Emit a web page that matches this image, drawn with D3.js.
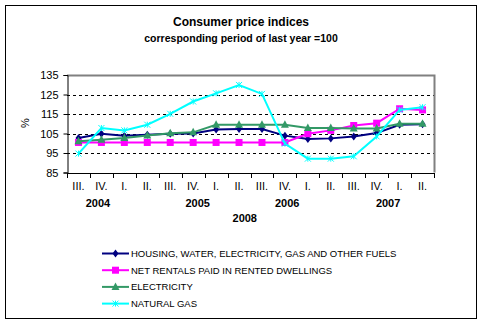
<!DOCTYPE html>
<html>
<head>
<meta charset="utf-8">
<script src="https://cdn.jsdelivr.net/npm/d3@7"></script>
<style>
  body { margin: 0; background: #fff; }
  svg text { font-family: "Liberation Sans", Arial, sans-serif; fill: #000; }
</style>
</head>
<body>
<svg id="chart" width="484" height="324"></svg>
<script>
/*
Data
*/
var quarters = ["III.", "IV.", "I.", "II.", "III.", "IV.", "I.", "II.", "III.", "IV.", "I.", "II.", "III.", "IV.", "I.", "II."];
var years = ["2004", "2005", "2006", "2007", "2008"];
var yTicks = [85, 95, 105, 115, 125, 135];

var housing = [102.7, 104.9, 103.9, 104.4, 104.9, 105.0, 107.0, 107.3, 107.3, 103.9, 102.2, 102.5, 103.5, 105.2, 109.5, 109.8];
var rentals = [100.4, 100.4, 100.4, 100.4, 100.4, 100.4, 100.4, 100.4, 100.4, 100.4, 104.9, 106.6, 109.1, 110.3, 117.7, 117.1];
var electricity = [101.0, 101.8, 102.7, 104.0, 105.1, 105.6, 109.5, 109.5, 109.5, 109.5, 107.8, 107.8, 107.6, 107.6, 110.0, 110.0];
var naturalGas = [94.7, 107.8, 106.6, 109.5, 115.1, 121.4, 125.6, 129.9, 125.3, 99.8, 92.1, 92.1, 93.3, 103.5, 117.1, 118.5];

var seriesNames = ["HOUSING, WATER, ELECTRICITY, GAS AND OTHER FUELS", "NET RENTALS PAID IN RENTED DWELLINGS", "ELECTRICITY", "NATURAL GAS"];

/*
Drawing
*/
function drawChart(){
  let svg = d3.select("#chart");
  let left = 67, right = 434, top = 75, bottom = 172.5;

  let series = [
    {name: seriesNames[0], values: housing, color: "#000080", marker: "diamond"},
    {name: seriesNames[1], values: rentals, color: "#FF00FF", marker: "square"},
    {name: seriesNames[2], values: electricity, color: "#339966", marker: "triangle"},
    {name: seriesNames[3], values: naturalGas, color: "#00FFFF", marker: "star"}
  ];

  // outer frame
  svg.append("rect")
     .attr("x", 5.5).attr("y", 5.5)
     .attr("width", 471).attr("height", 313)
     .attr("fill", "#fff").attr("stroke", "#000").attr("stroke-width", 1);

  svg.append("text")
     .attr("x", 241).attr("y", 26)
     .attr("text-anchor", "middle")
     .style("font-size", "12px").style("font-weight", "bold")
     .text("Consumer price indices");
  svg.append("text")
     .attr("x", 241).attr("y", 42)
     .attr("text-anchor", "middle")
     .style("font-size", "10.5px").style("font-weight", "bold")
     .text("corresponding period of last year =100");

  let x = d3.scaleBand().domain(d3.range(quarters.length)).range([left, right]);
  let y = d3.scaleLinear().domain([85, 135]).range([bottom, top]);

  // grid lines
  svg.append("g")
     .selectAll("line")
     .data(yTicks.filter(function(d){ return d > 85 && d < 135; }))
     .enter()
     .append("line")
     .attr("x1", left).attr("x2", right)
     .attr("y1", function(d){ return Math.round(y(d)) + 0.5; })
     .attr("y2", function(d){ return Math.round(y(d)) + 0.5; })
     .attr("stroke", "#000").attr("stroke-dasharray", "3,3");

  // plot border top/right
  svg.append("path")
     .attr("d", "M" + left + "," + (Math.round(top) + 0.5) + "H" + (right + 0.5) + "V" + bottom)
     .attr("fill", "none").attr("stroke", "#808080").attr("stroke-width", 2);

  // y axis
  let yAxis = d3.axisLeft(y).tickValues(yTicks).tickSize(4).tickPadding(5);
  let gy = svg.append("g")
              .attr("transform", "translate(" + (left + 0.5) + ",0)")
              .call(yAxis);
  gy.selectAll("text").style("font-size", "11px").attr("fill", "#000");
  gy.selectAll("line").attr("stroke", "#000");
  gy.select(".domain").attr("stroke", "#000");

  svg.append("text")
     .attr("transform", "translate(29,123) rotate(-90)")
     .attr("text-anchor", "middle")
     .style("font-size", "11px")
     .text("%");

  // x axis with ticks at category boundaries
  let gx = svg.append("g");
  gx.append("line")
    .attr("x1", left).attr("x2", right + 1)
    .attr("y1", Math.round(bottom) + 0.5).attr("y2", Math.round(bottom) + 0.5)
    .attr("stroke", "#000");
  gx.selectAll("line.tick")
    .data(d3.range(quarters.length + 1))
    .enter()
    .append("line")
    .attr("class", "tick")
    .attr("x1", function(i){ return Math.round(left + i * x.step()) + 0.5; })
    .attr("x2", function(i){ return Math.round(left + i * x.step()) + 0.5; })
    .attr("y1", Math.round(bottom)).attr("y2", Math.round(bottom) + 5)
    .attr("stroke", "#000");
  gx.selectAll("text")
    .data(quarters)
    .enter()
    .append("text")
    .attr("x", function(d, i){ return x(i) + x.bandwidth() / 2; })
    .attr("y", 190)
    .attr("text-anchor", "middle")
    .style("font-size", "11px")
    .text(function(d){ return d; });

  // year labels (placed like the original multi-level axis)
  let yearPos = [1.35, 5.7, 9.6, 14.0, 7.75];
  let yearRow = [207, 207, 207, 207, 222];
  svg.append("g")
     .selectAll("text")
     .data(years)
     .enter()
     .append("text")
     .attr("x", function(d, i){ return left + yearPos[i] * x.step(); })
     .attr("y", function(d, i){ return yearRow[i]; })
     .attr("text-anchor", "middle")
     .style("font-size", "11px").style("font-weight", "bold")
     .text(function(d){ return d; });

  let line = d3.line()
               .x(function(d, i){ return x(i) + x.bandwidth() / 2; })
               .y(function(d){ return y(d); });

  function addMarker(g, kind, color, cx, cy){
    if (kind == "diamond"){
      g.append("path")
       .attr("d", "M" + cx + "," + (cy - 4) + "L" + (cx + 3) + "," + cy + "L" + cx + "," + (cy + 4) + "L" + (cx - 3) + "," + cy + "Z")
       .attr("fill", color);
    } else if (kind == "square"){
      g.append("rect")
       .attr("x", cx - 3.5).attr("y", cy - 3.5)
       .attr("width", 7).attr("height", 7)
       .attr("fill", color);
    } else if (kind == "triangle"){
      g.append("path")
       .attr("d", "M" + cx + "," + (cy - 4.5) + "L" + (cx + 4) + "," + (cy + 3) + "L" + (cx - 4) + "," + (cy + 3) + "Z")
       .attr("fill", color);
    } else {
      g.append("path")
       .attr("d", "M" + (cx - 3) + "," + (cy - 3) + "L" + (cx + 3) + "," + (cy + 3) + "M" + (cx + 3) + "," + (cy - 3) + "L" + (cx - 3) + "," + (cy + 3) + "M" + cx + "," + (cy - 3) + "V" + (cy + 3))
       .attr("stroke", color).attr("stroke-width", 1).attr("fill", "none");
    }
  }

  series.forEach(function(s){
    let g = svg.append("g");
    g.append("path")
     .datum(s.values)
     .attr("d", line)
     .attr("fill", "none")
     .attr("stroke", s.color)
     .attr("stroke-width", 2);
    s.values.forEach(function(v, i){
      addMarker(g, s.marker, s.color, x(i) + x.bandwidth() / 2, y(v));
    });
  });

  // legend
  let legend = svg.append("g");
  series.forEach(function(s, i){
    let ly = 253.5 + i * 16.7;
    legend.append("line")
          .attr("x1", 102).attr("x2", 129)
          .attr("y1", ly).attr("y2", ly)
          .attr("stroke", s.color).attr("stroke-width", 2);
    addMarker(legend, s.marker, s.color, 115.5, ly);
    legend.append("text")
          .attr("x", 131).attr("y", ly + 3.5)
          .style("font-size", "9.5px")
          .text(s.name);
  });
}

drawChart();
</script>
</body>
</html>
